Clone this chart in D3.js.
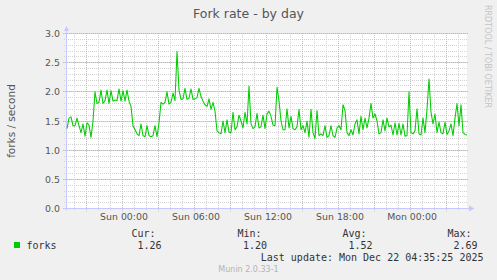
<!DOCTYPE html>
<html>
<head>
<meta charset="utf-8">
<script src="https://cdn.jsdelivr.net/npm/d3@7/dist/d3.min.js"></script>
<style>
  html, body { margin: 0; padding: 0; background: #f0f0f0; }
  svg { display: block; }
</style>
</head>
<body>
<svg id="chart" width="497" height="280"></svg>
<script>
// ---------- data ----------
const title = "Fork rate - by day";
const yLabel = "forks / second";
const seriesName = "forks";
const domainStart = "2025-12-20T19:17:30Z";
const domainEnd = "2025-12-22T04:37:30Z";
const firstSample = "2025-12-20T19:22:30Z";
const sampleMinutes = 10;
const yTickValues = [0, 0.5, 1.0, 1.5, 2.0, 2.5, 3.0];
const xLabelTimes = ["2025-12-21T00:00:00Z", "2025-12-21T06:00:00Z", "2025-12-21T12:00:00Z", "2025-12-21T18:00:00Z", "2025-12-22T00:00:00Z"];
const statLabels = ["Cur:", "Min:", "Avg:", "Max:"];
const statValues = ["1.26", "1.20", "1.52", "2.69"];
const lastUpdate = "Last update: Mon Dec 22 04:35:25 2025";
const version = "Munin 2.0.33-1";
const watermark = "RRDTOOL / TOBI OETIKER";
const forks = [
  1.37,1.55,1.57,1.42,1.42,1.55,1.42,1.30,1.45,1.24,1.47,1.43,1.22,1.50,2.00,1.80,1.82,2.03,1.80,1.85,
  2.03,1.80,2.02,1.84,1.86,1.85,2.05,1.84,2.02,1.84,2.03,1.84,1.75,1.42,1.35,1.28,1.25,1.45,1.25,1.23,
  1.42,1.25,1.23,1.25,1.42,1.23,1.47,1.82,1.79,1.82,2.00,1.79,1.82,1.98,1.85,2.69,2.03,1.87,1.88,2.06,
  1.87,1.89,2.05,1.87,1.88,1.90,2.06,1.92,1.84,1.78,1.75,1.88,1.70,1.82,1.67,1.33,1.30,1.28,1.50,1.30,
  1.52,1.31,1.30,1.65,1.35,1.40,1.60,1.50,1.38,1.65,1.45,2.10,1.45,1.37,1.40,1.63,1.38,1.40,1.60,1.37,
  1.62,1.67,1.58,1.43,1.42,2.08,1.85,1.50,1.35,1.35,1.71,1.38,1.58,1.37,1.35,1.40,1.70,1.35,1.42,1.30,
  1.50,1.22,1.70,1.30,1.20,1.68,1.25,1.28,1.25,1.42,1.22,1.25,1.42,1.25,1.22,1.38,1.42,1.35,1.78,1.68,
  1.30,1.25,1.35,1.26,1.45,1.52,1.28,1.58,1.35,1.55,1.38,1.55,1.80,1.55,1.62,1.50,1.28,1.30,1.52,1.33,
  1.55,1.40,1.43,1.26,1.47,1.26,1.46,1.26,1.45,1.24,1.25,2.00,1.30,1.28,1.33,1.71,1.28,1.26,1.55,1.30,
  1.70,2.22,1.65,1.45,1.62,1.30,1.48,1.30,1.28,1.48,1.27,1.33,1.45,1.25,1.55,1.80,1.42,1.78,1.30,1.27,
  1.26
];

// ---------- layout ----------
const L = 66, R = 466, T = 33.5, B = 208.5;
const svg = d3.select("#chart");
const t0 = new Date(domainStart), t1 = new Date(domainEnd);
const x = d3.scaleUtc().domain([t0, t1]).range([L, R]);
const y = d3.scaleLinear().domain([0, 3]).range([B, T]);
const s0 = new Date(firstSample);
const data = forks.map((v, i) => ({ t: d3.utcMinute.offset(s0, i * sampleMinutes), v }));
const crisp = v => Math.floor(v) + 0.5;

// background
svg.append("rect").attr("width", 497).attr("height", 280).attr("fill", "#f0f0f0");
svg.append("rect").attr("x", L).attr("y", 33).attr("width", 401).attr("height", 176).attr("fill", "#ffffff");

// grid
const g = svg.append("g");
const minorX = x.ticks(d3.utcHour.every(1));
const majorX = x.ticks(d3.utcHour.every(3));
const minorY = d3.range(0, 31).map(d => d / 10);
const majorY = y.ticks(6);
const minorCol = "#d2d2d2", majorCol = "#f4a8a8";

g.selectAll(".mnx").data(minorX).join("line")
  .attr("x1", d => crisp(x(d))).attr("x2", d => crisp(x(d)))
  .attr("y1", T - 0.5).attr("y2", B + 2.5)
  .attr("stroke", minorCol).attr("stroke-dasharray", "1,1");
g.selectAll(".mny").data(minorY).join("line")
  .attr("y1", d => crisp(y(d))).attr("y2", d => crisp(y(d)))
  .attr("x1", L - 2).attr("x2", R + 2)
  .attr("stroke", minorCol).attr("stroke-dasharray", "1,1");
g.selectAll(".mjx").data(majorX).join("line")
  .attr("x1", d => crisp(x(d))).attr("x2", d => crisp(x(d)))
  .attr("y1", T - 0.5).attr("y2", B + 3)
  .attr("stroke", majorCol).attr("stroke-dasharray", "1,1");
g.selectAll(".mjy").data(majorY).join("line")
  .attr("y1", d => crisp(y(d))).attr("y2", d => crisp(y(d)))
  .attr("x1", L - 3).attr("x2", R + 2)
  .attr("stroke", majorCol).attr("stroke-dasharray", "1,1");

// axes lines + arrows
const axCol = "#c8c8ff";
svg.append("line").attr("x1", L + 0.5).attr("x2", L + 0.5).attr("y1", B + 2).attr("y2", 29).attr("stroke", axCol);
svg.append("path").attr("d", `M${L - 2},31 L${L + 3},31 L${L + 0.5},26 Z`).attr("fill", axCol);
svg.append("line").attr("x1", L - 2).attr("x2", 470).attr("y1", B).attr("y2", B).attr("stroke", axCol);
svg.append("path").attr("d", `M469,${B - 3} L469,${B + 3} L474.5,${B} Z`).attr("fill", axCol);

// data line
svg.append("clipPath").attr("id", "clip").append("rect")
  .attr("x", L).attr("y", 20).attr("width", 401).attr("height", 190);
svg.append("path").datum(data)
  .attr("clip-path", "url(#clip)")
  .attr("fill", "none").attr("stroke", "#00cc00").attr("stroke-width", 1.05)
  .attr("stroke-linejoin", "round")
  .attr("d", d3.line().x(d => x(d.t)).y(d => y(d.v)));

// axis labels via d3 axes
const axisFont = "DejaVu Sans, sans-serif";
const yAxis = svg.append("g").attr("transform", `translate(${L},0)`)
  .call(d3.axisLeft(y).tickValues(yTickValues).tickFormat(d3.format(".1f")).tickSize(0).tickPadding(6));
yAxis.select(".domain").remove();
yAxis.selectAll("text").attr("font-family", axisFont).attr("font-size", "9.4px").attr("fill", "#555");

const xAxis = svg.append("g").attr("transform", `translate(0,${B})`)
  .call(d3.axisBottom(x).tickValues(xLabelTimes.map(d => new Date(d)))
    .tickFormat(d3.utcFormat("%a %H:%M")).tickSize(0).tickPadding(4.5));
xAxis.select(".domain").remove();
xAxis.selectAll("text").attr("font-family", axisFont).attr("font-size", "9.4px").attr("fill", "#555").attr("dx", "1");

// title
svg.append("text").attr("x", 248.5).attr("y", 18).attr("text-anchor", "middle")
  .attr("font-family", axisFont).attr("font-size", "12.5px").attr("fill", "#555").text(title);

// y label
svg.append("text").attr("transform", `translate(15,${(T + B) / 2}) rotate(-90)`)
  .attr("text-anchor", "middle").attr("font-family", axisFont).attr("font-size", "10.5px")
  .attr("fill", "#555").text(yLabel);

// watermark
svg.append("text").attr("transform", "translate(485,5) rotate(90)")
  .attr("text-anchor", "start").attr("font-family", axisFont).attr("font-size", "8px")
  .attr("fill", "#c4c4c4").text(watermark);

// legend
const mono = "DejaVu Sans Mono, monospace";
svg.append("rect").attr("x", 14).attr("y", 242).attr("width", 6).attr("height", 6).attr("fill", "#00cc00");
svg.append("text").attr("x", 26.5).attr("y", 248.5).attr("font-family", mono).attr("font-size", "10px")
  .attr("fill", "#333").text(seriesName);
const labelX = [131.5, 237.5, 342.5, 447.5];
const valueEnd = [161.5, 267, 372.5, 477.5];
svg.selectAll(".sl").data(statLabels).join("text")
  .attr("x", (d, i) => labelX[i]).attr("y", 236.5)
  .attr("font-family", mono).attr("font-size", "10px").attr("fill", "#333").text(d => d);
svg.selectAll(".sv").data(statValues).join("text")
  .attr("x", (d, i) => valueEnd[i]).attr("y", 248.5).attr("text-anchor", "end")
  .attr("font-family", mono).attr("font-size", "10px").attr("fill", "#333").text(d => d);
svg.append("text").attr("x", 483.5).attr("y", 261).attr("text-anchor", "end")
  .attr("font-family", mono).attr("font-size", "10px").attr("fill", "#333").text(lastUpdate);
svg.append("text").attr("x", 248.5).attr("y", 272).attr("text-anchor", "middle")
  .attr("font-family", axisFont).attr("font-size", "8px").attr("fill", "#b4b4b4").text(version);
</script>
</body>
</html>
